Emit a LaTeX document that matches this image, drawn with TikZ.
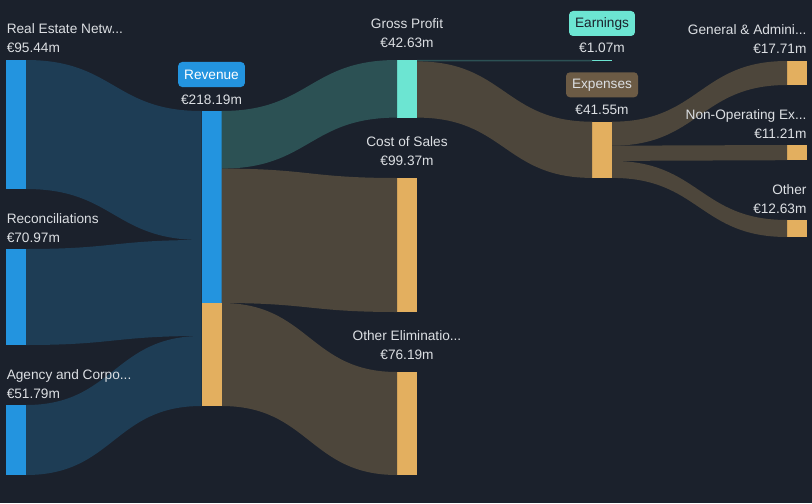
\documentclass[tikz,border=0pt]{standalone}
\usepackage{fontspec}
\setmainfont{Liberation Sans}
\usetikzlibrary{positioning,calc}

\definecolor{bgc}{HTML}{1B212C}
\definecolor{txtc}{HTML}{DCDFE3}
\definecolor{sblue}{HTML}{2394DF}
\definecolor{fblue}{HTML}{1E3D55}
\definecolor{steal}{HTML}{6CE5D2}
\definecolor{fteal}{HTML}{2C5154}
\definecolor{sorange}{HTML}{E3AF5F}
\definecolor{fbrown}{HTML}{4D463B}
\definecolor{expbox}{HTML}{6C5B45}

\tikzset{
  bar/.style={rectangle, inner sep=0, outer sep=0, minimum width=15pt},
  lbl/.style={text=txtc, inner sep=0, font=\fontsize{10.25}{12}\selectfont},
  tag/.style={rounded corners=3pt, inner xsep=4.5pt, inner ysep=0, minimum height=18.75pt, font=\fontsize{10.25}{12}\selectfont}
}

% a bar: name, centre x, top, bottom, colour
\newcommand\block[5]{\node[bar, fill=#5, minimum height={(#4-#3)*0.75pt}] (#1) at (#2,{(#3+#4)/2}) {};}
% a band: from node, top, bottom, to node, top, bottom, colour
\newcommand\flow[7]{\fill[#7] let \p1=(#1.north east), \p2=(#4.north west) in
  (\x1,\y1-#2*0.75pt) .. controls ({(\x1+\x2)/2},\y1-#2*0.75pt) and ({(\x1+\x2)/2},\y2-#5*0.75pt) .. (\x2,\y2-#5*0.75pt)
  -- (\x2,\y2-#6*0.75pt) .. controls ({(\x1+\x2)/2},\y2-#6*0.75pt) and ({(\x1+\x2)/2},\y1-#3*0.75pt) .. (\x1,\y1-#3*0.75pt) -- cycle;}

\begin{document}
\begin{tikzpicture}[x=0.75pt, y=-0.75pt]
  \fill[bgc] (0,0) rectangle (812,503);
  \useasboundingbox (0,0) rectangle (812,503);

  \block{re}{16}{60}{189}{sblue}
  \block{rec}{16}{249}{345}{sblue}
  \block{agc}{16}{405}{475}{sblue}
  \block{rev}{211.5}{111}{406}{sblue}
  \block{gp}{407}{60}{117.6}{steal}
  \block{cos}{407}{178}{312}{sorange}
  \block{oe}{407}{372}{475}{sorange}
  \block{earn}{602}{60}{61.4}{steal}
  \block{exp}{602}{121.7}{177.9}{sorange}
  \block{ga}{797}{61}{85}{sorange}
  \block{nop}{797}{145}{160.2}{sorange}
  \block{oth}{797}{220}{237}{sorange}

  \flow{re}{0}{129}{rev}{0}{129}{fblue}
  \flow{rec}{0}{96}{rev}{129}{225}{fblue}
  \flow{agc}{0}{70}{rev}{225}{295}{fblue}
  \flow{rev}{0}{57.6}{gp}{0}{57.6}{fteal}
  \flow{rev}{57.6}{192}{cos}{0}{134}{fbrown}
  \flow{rev}{192}{295}{oe}{0}{103}{fbrown}
  \flow{gp}{0}{1.4}{earn}{0}{1.4}{fteal}
  \flow{gp}{1.4}{57.6}{exp}{0}{56.2}{fbrown}
  \flow{exp}{0}{24}{ga}{0}{24}{fbrown}
  \flow{exp}{24}{39.2}{nop}{0}{15.2}{fbrown}
  \flow{exp}{39.2}{56.2}{oth}{0}{17}{fbrown}

  \block{revo}{211.5}{303}{406}{sorange}

  \node(reN) [lbl, anchor=base west] at (6.5,34) {Real Estate Netw...};
  \node(reV) [lbl, anchor=base west] at (6.5,53) {€95.44m};
  \node(recN) [lbl, anchor=base west] at (6.5,223) {Reconciliations};
  \node(recV) [lbl, anchor=base west] at (6.5,242) {€70.97m};
  \node(agcN) [lbl, anchor=base west] at (6.5,379) {Agency and Corpo...};
  \node(agcV) [lbl, anchor=base west] at (6.5,398) {€51.79m};

  \node(revN) [tag, fill=sblue, text=white] at (211.5,74.5) {Revenue};
  \node(revV) [lbl, anchor=base] at (211.5,104) {€218.19m};

  \node(gpN) [lbl, anchor=base] at (407,28.5) {Gross Profit};
  \node(gpV) [lbl, anchor=base] at (407,47.5) {€42.63m};
  \node(cosN) [lbl, anchor=base] at (407,146) {Cost of Sales};
  \node(cosV) [lbl, anchor=base] at (407,165) {€99.37m};
  \node(oeN) [lbl, anchor=base] at (407,340.5) {Other Eliminatio...};
  \node(oeV) [lbl, anchor=base] at (407,359.5) {€76.19m};

  \node(earnN) [tag, fill=steal, text=bgc] at (602,23.5) {Earnings};
  \node(earnV) [lbl, anchor=base] at (602,53) {€1.07m};
  \node(expN) [tag, fill=expbox, text=txtc] at (602,84.8) {Expenses};
  \node(expV) [lbl, anchor=base] at (602,114.5) {€41.55m};

  \node(gaN) [lbl, anchor=base east] at (806.7,35) {General \& Admini...};
  \node(gaV) [lbl, anchor=base east] at (806.7,54) {€17.71m};
  \node(nopN) [lbl, anchor=base east] at (806.7,119) {Non-Operating Ex...};
  \node(nopV) [lbl, anchor=base east] at (806.7,138) {€11.21m};
  \node(othN) [lbl, anchor=base east] at (806.7,194) {Other};
  \node(othV) [lbl, anchor=base east] at (806.7,213) {€12.63m};
\end{tikzpicture}
\end{document}
